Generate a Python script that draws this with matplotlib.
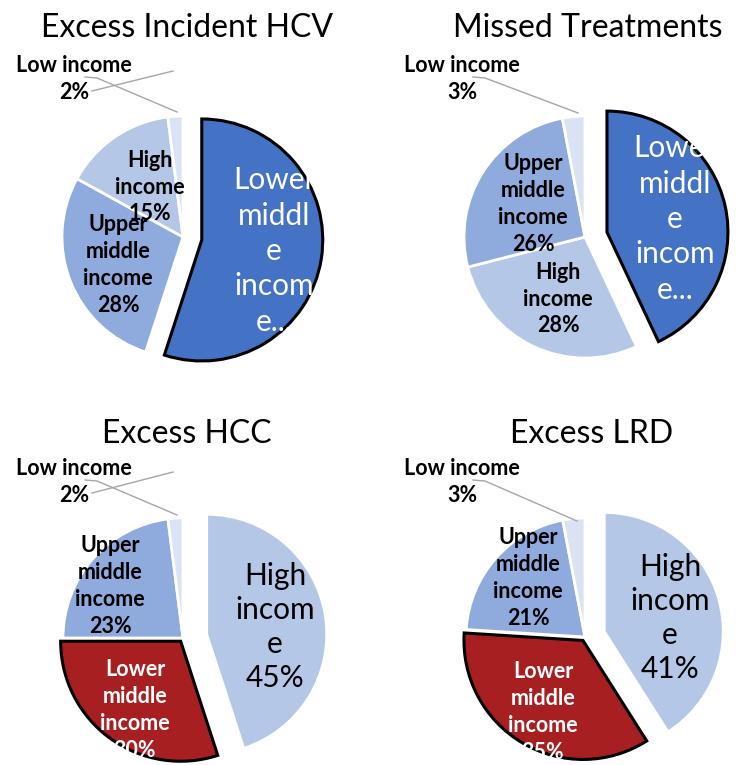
import matplotlib.pyplot as plt

# ----- Data: share of each outcome by World Bank income group (%) -----
# Slices are listed clockwise starting at 12 o'clock.
hcv_groups = ["Lower middle income", "Upper middle income", "High income", "Low income"]
hcv_values = [55, 28, 15, 2]

treat_groups = ["Lower middle income", "High income", "Upper middle income", "Low income"]
treat_values = [43, 28, 26, 3]

hcc_groups = ["High income", "Lower middle income", "Upper middle income", "Low income"]
hcc_values = [45, 30, 23, 2]

lrd_groups = ["High income", "Lower middle income", "Upper middle income", "Low income"]
lrd_values = [41, 35, 21, 3]

titles = ["Excess Incident HCV", "Missed Treatments", "Excess HCC", "Excess LRD"]

W, H = 739, 765
FONT = "Lato"
GREY = "#A6A6A6"
SMALL, BIG = 15.5, 21.5

colors_blue = {
    "Lower middle income": "#4472C4",
    "Upper middle income": "#8FAADC",
    "High income": "#B4C7E7",
    "Low income": "#DAE3F3",
}
colors_red = dict(colors_blue, **{"Lower middle income": "#A81F22"})

fig = plt.figure(figsize=(W / 100, H / 100), dpi=100)
ax = fig.add_axes([0, 0, 1, 1])


def yy(y):
    # layout below is given from the top edge down
    return H - y


def draw_pie(groups, values, palette, center, radius, explode, highlight):
    # explode is an offset in pixels (pie() uses data units)
    wedges, _ = ax.pie(
        values,
        colors=[palette[g] for g in groups],
        startangle=90,
        counterclock=False,
        center=(center[0], yy(center[1])),
        radius=radius,
        explode=explode,
        wedgeprops=dict(edgecolor="white", linewidth=2),
        frame=True,
    )
    w = wedges[groups.index(highlight)]
    w.set_edgecolor("black")
    w.set_linewidth(2.2)
    w.set_zorder(3)


def label(x, y, s, size=SMALL, color="black", weight="bold", spacing=1.35):
    ax.text(x, yy(y), s, ha="center", va="center", multialignment="center",
            fontsize=size, color=color, fontweight=weight, family=FONT,
            linespacing=spacing, zorder=5)


def leader(xs, ys):
    ax.plot(xs, [yy(v) for v in ys], color=GREY, lw=1, zorder=4)


def pct(groups, values, name):
    return f"{values[groups.index(name)]}%"


# ----- Excess Incident HCV -----
draw_pie(hcv_groups, hcv_values, colors_blue, (183, 237), 121,
         [19, 0, 0, 0], "Lower middle income")
label(150, 187, "High\nincome\n" + pct(hcv_groups, hcv_values, "High income"))
label(118, 265, "Upper\nmiddle\nincome\n" + pct(hcv_groups, hcv_values, "Upper middle income"))
label(274, 251, "Lower\nmiddl\ne\nincom\ne...", size=BIG, color="white", weight="normal", spacing=1.32)
label(74, 79, "Low income\n" + pct(hcv_groups, hcv_values, "Low income"))
leader([85, 97, 177], [77, 78, 112])
leader([92, 173], [91, 71])

# ----- Missed Treatments -----
draw_pie(treat_groups, treat_values, colors_blue, (585, 237), 121,
         [22.5, 0, 0, 0], "Lower middle income")
label(533, 204, "Upper\nmiddle\nincome\n" + pct(treat_groups, treat_values, "Upper middle income"))
label(558, 299, "High\nincome\n" + pct(treat_groups, treat_values, "High income"))
label(675, 219, "Lower\nmiddl\ne\nincom\ne...", size=BIG, color="white", weight="normal", spacing=1.32)
label(462, 79, "Low income\n" + pct(treat_groups, treat_values, "Low income"))
leader([473, 485, 578], [77, 78, 113])

# ----- Excess HCC -----
draw_pie(hcc_groups, hcc_values, colors_red, (183, 638), 120,
         [24, 4, 0, 0], "Lower middle income")
label(110, 586, "Upper\nmiddle\nincome\n" + pct(hcc_groups, hcc_values, "Upper middle income"))
label(275, 627, "High\nincom\ne\n" + pct(hcc_groups, hcc_values, "High income"),
      size=BIG, weight="normal", spacing=1.27)
label(135, 710, "Lower\nmiddle\nincome\n" + pct(hcc_groups, hcc_values, "Lower middle income"),
      color="white")
label(74, 482, "Low income\n" + pct(hcc_groups, hcc_values, "Low income"))
leader([85, 97, 177], [480, 481, 515])
leader([92, 173], [493, 472])

# ----- Excess LRD -----
draw_pie(lrd_groups, lrd_values, colors_red, (585, 637), 119,
         [20, 4, 0, 0], "Lower middle income")
label(528, 578, "Upper\nmiddle\nincome\n" + pct(lrd_groups, lrd_values, "Upper middle income"))
label(670, 618, "High\nincom\ne\n" + pct(lrd_groups, lrd_values, "High income"),
      size=BIG, weight="normal", spacing=1.27)
label(543, 712, "Lower\nmiddle\nincome\n" + pct(lrd_groups, lrd_values, "Lower middle income"),
      color="white")
label(462, 482, "Low income\n" + pct(lrd_groups, lrd_values, "Low income"))
leader([473, 485, 577], [480, 481, 521])

# ----- Titles -----
for (x, y), t in zip([(187, 37), (588, 37), (187, 443), (592, 443)], titles):
    ax.text(x, yy(y), t, ha="center", va="baseline", fontsize=23, family=FONT)

ax.set_xlim(0, W)
ax.set_ylim(0, H)
ax.set_aspect("equal")
ax.set_axis_off()
fig.savefig("out.png", dpi=100)
